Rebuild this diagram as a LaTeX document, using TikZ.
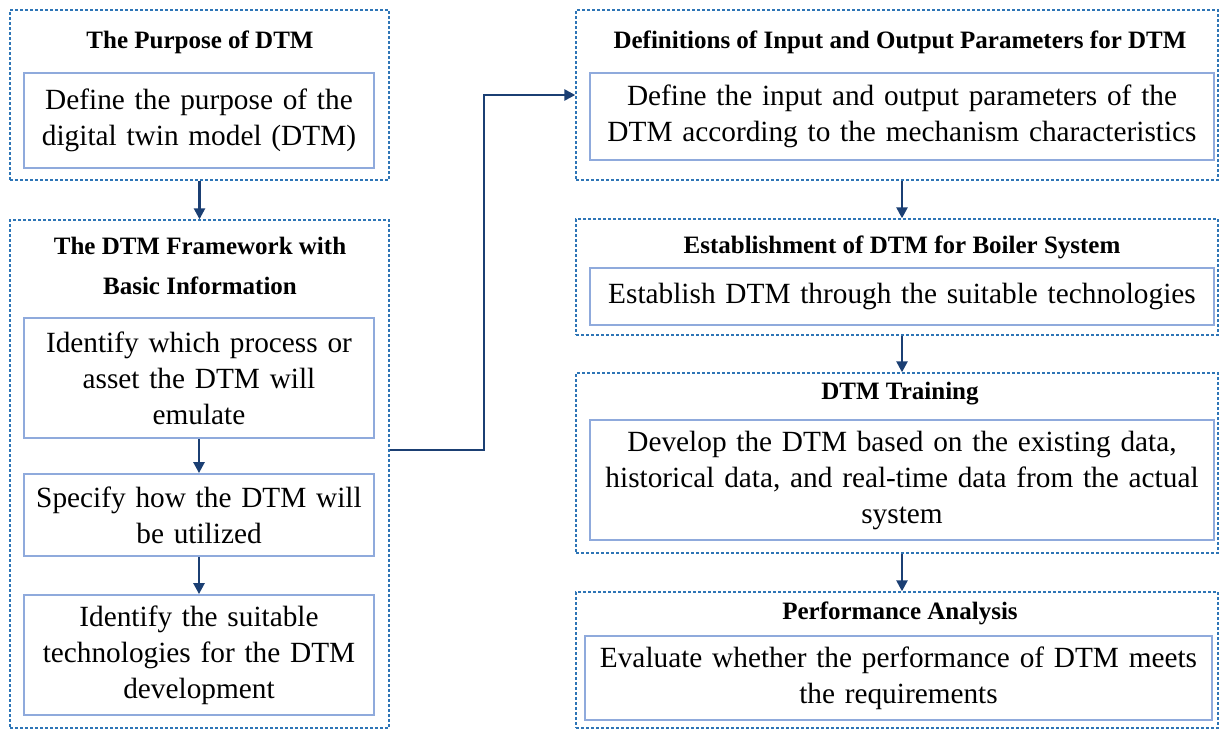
\documentclass[tikz,border=0pt]{standalone}
\usepackage{fontspec}
\setmainfont{Liberation Serif}
\usetikzlibrary{arrows.meta}
\definecolor{dashblue}{HTML}{2E75B6}
\definecolor{lineblue}{HTML}{8FAADC}
\definecolor{arrownavy}{HTML}{1B3F73}

\begin{document}
\begin{tikzpicture}[x=1pt,y=-1pt,
        outerbox/.style={draw=dashblue, line width=1.4pt, dash pattern=on 3pt off 2pt, inner sep=0pt},
        innerbox/.style={draw=lineblue, line width=1.8pt, align=center, inner sep=0pt,
            font=\fontsize{29.3}{36}\selectfont},
        headtxt/.style={align=center, inner sep=0pt, font=\fontsize{25}{40}\selectfont\bfseries},
        flow/.style={draw=arrownavy, line width=2.5pt, -{Triangle[length=11pt,width=11pt]}}]
        \useasboundingbox (0,0) rectangle (1220,729);

        % Left column
        \node[outerbox, minimum width=379pt, minimum height=170pt] (purpose) at (199.5,95) {};
        \node[headtxt] (purposehd) at (200,42) {The Purpose of DTM};
        \node[innerbox, text width=340pt, minimum width=350pt, minimum height=95pt] (purposebx) at (199,120.5)
            {Define the purpose of the\\digital twin model (DTM)};

        \node[outerbox, minimum width=379pt, minimum height=508pt] (frame) at (199.5,474) {};
        \node[headtxt] (framehd) at (200,266) {The DTM Framework with\\Basic Information};
        \node[innerbox, text width=340pt, minimum width=350pt, minimum height=120pt] (asset) at (199,378)
            {Identify which process or\\asset the DTM will\\emulate};
        \node[innerbox, text width=340pt, minimum width=350pt, minimum height=82pt] (usage) at (199,515)
            {Specify how the DTM will\\be utilized};
        \node[innerbox, text width=340pt, minimum width=350pt, minimum height=120pt] (techs) at (199,655)
            {Identify the suitable\\technologies for the DTM\\development};

        % Right column
        \node[outerbox, minimum width=642pt, minimum height=170pt] (defs) at (897,95) {};
        \node[headtxt] (defshd) at (900,42) {Definitions of Input and Output Parameters for DTM};
        \node[innerbox, text width=614pt, minimum width=624pt, minimum height=87pt] (defsbx) at (902,116.5)
            {Define the input and output parameters of the\\DTM according to the mechanism characteristics};

        \node[outerbox, minimum width=642pt, minimum height=116pt] (estab) at (897,277) {};
        \node[headtxt] (estabhd) at (902,247) {Establishment of DTM for Boiler System};
        \node[innerbox, text width=614pt, minimum width=624pt, minimum height=57pt] (estabbx) at (902,296.5)
            {Establish DTM through the suitable technologies};

        \node[outerbox, minimum width=642pt, minimum height=180pt] (train) at (897,463) {};
        \node[headtxt] (trainhd) at (900,394) {DTM Training};
        \node[innerbox, text width=614pt, minimum width=624pt, minimum height=120pt] (trainbx) at (902,480)
            {Develop the DTM based on the existing data,\\historical data, and real-time data from the actual\\system};

        \node[outerbox, minimum width=642pt, minimum height=136pt] (perf) at (897,660) {};
        \node[headtxt] (perfhd) at (900,613) {Performance Analysis};
        \node[innerbox, text width=617pt, minimum width=627pt, minimum height=84pt] (perfbx) at (898.5,678)
            {Evaluate whether the performance of DTM meets\\the requirements};

        % Arrows
        \coordinate (turn) at (484,450);
        \draw[flow] (purpose.south) -- (frame.north);
        \draw[flow] (asset.south) -- (usage.north);
        \draw[flow] (usage.south) -- (techs.north);
        \draw[flow] (frame.east |- turn) -- (turn) |- (defs.west);
        \draw[flow] ([xshift=5pt]defs.south) -- ([xshift=5pt]estab.north);
        \draw[flow] ([xshift=5pt]estab.south) -- ([xshift=5pt]train.north);
        \draw[flow] ([xshift=5pt]train.south) -- ([xshift=5pt]perf.north);
    \end{tikzpicture}
\end{document}
